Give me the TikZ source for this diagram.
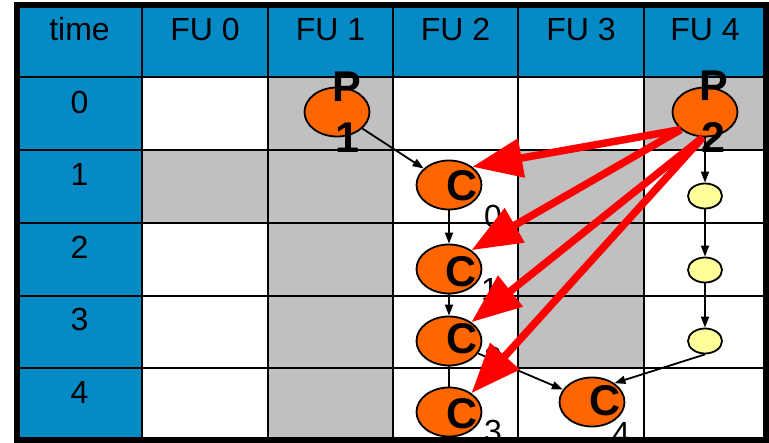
\documentclass[tikz,border=0pt]{standalone}
\usepackage{fontspec}
\setmainfont{Liberation Sans}
\usetikzlibrary{arrows.meta,shapes.geometric}

\definecolor{tblblue}{RGB}{6,138,198}
\definecolor{cellgray}{RGB}{192,192,192}
\definecolor{procorange}{RGB}{255,102,0}
\definecolor{waityellow}{RGB}{255,255,153}

\begin{document}
\begin{tikzpicture}
    [x=1pt, y=-1pt,
    txt/.style={font=\fontsize{32}{32}\selectfont, anchor=base, inner sep=0pt},
    big/.style={font=\fontsize{43}{43}\selectfont\bfseries, anchor=base, inner sep=0pt},
    proc/.style={ellipse, draw, line width=1.8pt, fill=procorange, minimum width=65pt, minimum height=49pt, inner sep=0pt},
    wait/.style={ellipse, draw, line width=1.8pt, fill=waityellow, minimum width=34pt, minimum height=25pt, inner sep=0pt},
    gridline/.style={line width=2.6pt},
    dep/.style={line width=1.8pt, -{Triangle[length=11pt,width=8pt]}},
    xfer/.style={red, line width=7.5pt, -{Triangle[length=50pt,width=38pt]}}]
    \useasboundingbox (0,0) rectangle (769,443);
    \fill[white] (0,0) rectangle (769,443);

    % table background
    \fill[tblblue] (17,5) rectangle (766,77);
    \fill[tblblue] (17,77) rectangle (142,440);
    \fill[cellgray] (268,77) rectangle (393,440);
    \fill[cellgray] (644,77) rectangle (766,150);
    \fill[cellgray] (142,150) rectangle (268,223);
    \fill[cellgray] (518,150) rectangle (644,368);

    \draw[gridline] (142,5) -- (142,440);
    \draw[gridline] (268,5) -- (268,440);
    \draw[gridline] (393,5) -- (393,440);
    \draw[gridline] (518,5) -- (518,440);
    \draw[gridline] (644,5) -- (644,440);
    \draw[gridline] (17,77) -- (766,77);
    \draw[gridline] (17,150) -- (766,150);
    \draw[gridline] (17,223) -- (766,223);
    \draw[gridline] (17,296) -- (766,296);
    \draw[gridline] (17,368) -- (766,368);

    % headers
    \node[txt] (hTime) at (79.5,41) {time};
    \node[txt] (hFU0) at (205,41) {FU 0};
    \node[txt] (hFU1) at (330.5,41) {FU 1};
    \node[txt] (hFU2) at (455.5,41) {FU 2};
    \node[txt] (hFU3) at (581,41) {FU 3};
    \node[txt] (hFU4) at (705,41) {FU 4};
    \node[txt] (t0) at (79.5,114) {0};
    \node[txt] (t1) at (79.5,186) {1};
    \node[txt] (t2) at (79.5,259) {2};
    \node[txt] (t3) at (79.5,331) {3};
    \node[txt] (t4) at (79.5,404) {4};

    % tasks
    \node[proc] (P1) at (337,112) {};
    \node[proc] (P2) at (705,112) {};
    \node[proc] (C0) at (449,185) {};
    \node[proc] (C1) at (449,269) {};
    \node[proc] (C2) at (449,341) {};
    \node[proc] (C3) at (449,412) {};
    \node[proc] (C4) at (592,402) {};
    \node[wait] (Y1) at (705,196) {};
    \node[wait] (Y2) at (705,270) {};
    \node[wait] (Y3) at (705,341) {};

    \node[big] (P1a) at (347,102) {P};
    \node[big] (P1b) at (347,153) {1};
    \node[big] (P2a) at (714,101) {P};
    \node[big] (P2b) at (713,153) {2};
    \node[big] (C0a) at (462,201) {C};
    \node[big] (C1a) at (461,287) {C};
    \node[big] (C2a) at (462,354) {C};
    \node[big] (C3a) at (462,429) {C};
    \node[big] (C4a) at (605,416) {C};
    \node[txt] (C0b) at (493,228) {0};
    \node[txt] (C1b) at (490,301) {1};
    \node[txt] (C2b) at (493,370) {2};
    \node[txt] (C3b) at (493,443) {3};
    \node[txt] (C4b) at (621,445) {4};

    % dependencies
    \draw[dep] (P1) -- (C0);
    \draw[dep] (C0) -- (C1);
    \draw[dep] (C1) -- (C2);
    \draw[line width=1.8pt] (C2) -- (C3);
    \draw[dep] (C2) -- (C4);
    \draw[dep] (P2) -- (Y1);
    \draw[dep] (Y1) -- (Y2);
    \draw[dep] (Y2) -- (Y3);
    \draw[dep] (Y3.south) -- (C4.40);

    % transfers from P2
    \draw[xfer] (P2.216) -- (C0.38);
    \draw[xfer] (P2.216) -- (C1.40);
    \draw[xfer] (P2.265) -- (C2.40);
    \draw[xfer] (P2.265) -- (C3.40);

    \draw[line width=6pt] (17,5) rectangle (766,440);
\end{tikzpicture}
\end{document}
